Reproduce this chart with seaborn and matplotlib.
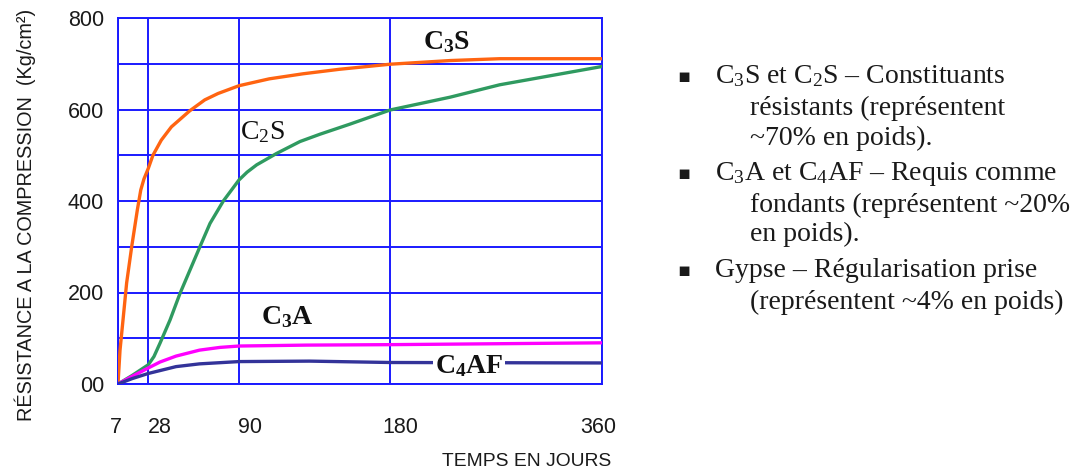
import numpy as np
import pandas as pd
import matplotlib
matplotlib.use("Agg")
import matplotlib.pyplot as plt
import seaborn as sns
from matplotlib.transforms import ScaledTranslation

# ---------------- data ----------------
tick_days = [7, 28, 90, 180, 360]
tick_labels = ["7", "28", "90", "180", "360"]
ytick_values = [0, 200, 400, 600, 800]
ytick_labels = ["00", "200", "400", "600", "800"]

days_c3s = [7, 8.4, 10.7, 13, 16.5, 20.4, 22.8, 25, 28, 31.2, 36.9, 43.8, 56.3, 66.6, 75.7, 90, 108, 128, 150, 180, 231, 273, 360]
res_c3s = [0, 74, 147, 221, 300, 380, 424, 448, 471, 500, 533, 562, 597, 621, 635, 652, 667, 678, 688, 699, 707, 711, 711]

days_c2s = [7, 17, 28, 31.9, 36, 42.9, 49.7, 56.5, 63.3, 70.2, 79.3, 90, 94.8, 100.5, 112.4, 126.3, 138.2, 156, 180, 231, 273, 360]
res_c2s = [0, 19, 42, 60, 89, 140, 198, 249, 300, 351, 400, 446, 463, 479, 504, 530, 546, 568, 599, 627, 654, 694]

days_c3a = [7, 17, 28, 36, 47, 63, 77, 90, 130, 180, 360]
res_c3a = [0, 17, 35, 48, 61, 74, 80, 83, 85, 86, 90]

days_c4af = [7, 17, 28, 47, 63, 90, 132, 180, 360]
res_c4af = [0, 12, 23, 38, 44, 49, 50, 47, 46]

series_names = ["C3S", "C2S", "C3A", "C4AF"]
series_colors = ["#ff6411", "#2f9a60", "#ff00ff", "#333399"]

bullet_lines = [
    (True, r"$\mathrm{C_3S}$ et $\mathrm{C_2S}$ – Constituants"),
    (False, "résistants (représentent"),
    (False, "~70% en poids)."),
    (True, r"$\mathrm{C_3A}$ et $\mathrm{C_4AF}$ – Requis comme"),
    (False, "fondants (représentent ~20%"),
    (False, "en poids)."),
    (True, "Gypse – Régularisation prise"),
    (False, "(représentent ~4% en poids)"),
]

# ---------------- styling ----------------
sns.set_theme(style="white")
plt.rcParams["font.family"] = ["Liberation Sans", "DejaVu Sans"]
plt.rcParams["mathtext.fontset"] = "custom"
plt.rcParams["mathtext.rm"] = "Liberation Serif"
plt.rcParams["mathtext.it"] = "Liberation Serif:italic"
plt.rcParams["mathtext.bf"] = "Liberation Serif:bold"

frames = []
for name, d, r in [("C3S", days_c3s, res_c3s), ("C2S", days_c2s, res_c2s),
                   ("C3A", days_c3a, res_c3a), ("C4AF", days_c4af, res_c4af)]:
    frames.append(pd.DataFrame({"jours": d, "resistance": r, "serie": name}))
df = pd.concat(frames, ignore_index=True)

# non-linear time axis of the original schematic (grid spacing 1:4:9:16)
scale_pos = [0, 1, 4, 9, 16]
D = np.array(tick_days, float)
P = np.array(scale_pos, float)


def fwd(x):
    x = np.asarray(x, float)
    y = np.interp(x, D, P)
    y = np.where(x < D[0], P[0] + (x - D[0]) * (P[1] - P[0]) / (D[1] - D[0]), y)
    y = np.where(x > D[-1], P[-1] + (x - D[-1]) * (P[-1] - P[-2]) / (D[-1] - D[-2]), y)
    return y


def inv(u):
    u = np.asarray(u, float)
    x = np.interp(u, P, D)
    x = np.where(u < P[0], D[0] + (u - P[0]) * (D[1] - D[0]) / (P[1] - P[0]), x)
    x = np.where(u > P[-1], D[-1] + (u - P[-1]) * (D[-1] - D[-2]) / (P[-1] - P[-2]), x)
    return x


fig = plt.figure(figsize=(10.91, 4.75), dpi=100)
ax = fig.add_axes([118 / 1091, 1 - 384 / 475, (602 - 118) / 1091, (384 - 18) / 475])
ax.set_xscale("function", functions=(fwd, inv))

sns.lineplot(data=df, x="jours", y="resistance", hue="serie", hue_order=series_names,
             palette=series_colors, estimator=None, sort=False, lw=2.4, legend=False,
             ax=ax, zorder=3)
for ln in ax.get_lines():
    ln.set_solid_joinstyle("round")

ax.set_xlim(tick_days[0], tick_days[-1])
ax.set_ylim(0, 800)
ax.set_xticks(tick_days)
ax.set_xticklabels(tick_labels)
grid_vals = list(range(0, 801, 100))
ax.set_yticks(grid_vals)
ax.set_yticklabels([ytick_labels[ytick_values.index(v)] if v in ytick_values else "" for v in grid_vals])
ax.minorticks_off()
ax.grid(True, color="#1a1aff", lw=1.4)
for s in ax.spines.values():
    s.set_color("#1a1aff")
    s.set_linewidth(1.4)
ax.tick_params(axis="both", length=0, labelsize=15.5, colors="#1a1a1a")
ax.tick_params(axis="x", pad=24)
ax.tick_params(axis="y", pad=10)
ax.set_xlabel("")
ax.set_ylabel("")

xoffs = [-2, 12, 11, 10, -4]
for lab, dx in zip(ax.get_xticklabels(), xoffs):
    lab.set_transform(lab.get_transform() + ScaledTranslation(dx / 100, 0, fig.dpi_scale_trans))

# curve labels
lab_kw = dict(fontsize=20, ha="center", va="center", color="#111111", zorder=5)
ax.text(228, 748, r"$\mathbf{C_3S}$", **lab_kw)
ax.text(104, 551, r"$\mathrm{C_2S}$", **lab_kw)
ax.text(119, 146, r"$\mathbf{C_3A}$", **lab_kw)
ax.text(247, 39, r"$\mathbf{C_4AF}$", bbox=dict(facecolor="white", edgecolor="none", pad=1.5), **lab_kw)

# axis titles
fig.text(25 / 1091, 1 - 215 / 475, "RÉSISTANCE A LA COMPRESSION  (Kg/cm²)", rotation=90,
         ha="center", va="center", fontsize=14.3, color="#1a1a1a")
fig.text(527 / 1091, 1 - 462 / 475, "TEMPS EN JOURS", ha="center", va="center", fontsize=13.9, color="#1a1a1a")

# right-hand bullet text
baselines = [83, 115, 145, 180, 212, 241, 277, 309]
for (is_bullet, txt), yy in zip(bullet_lines, baselines):
    if is_bullet:
        fig.text(684 / 1091, 1 - (yy - 7) / 475, "▪", ha="center", va="center", fontsize=14,
                 color="#1a1a1a", family=["DejaVu Sans"])
        fig.text(715 / 1091, 1 - yy / 475, txt, ha="left", va="baseline", fontsize=20,
                 color="#1a1a1a", family=["Liberation Serif", "DejaVu Serif"])
    else:
        fig.text(750 / 1091, 1 - yy / 475, txt, ha="left", va="baseline", fontsize=20,
                 color="#1a1a1a", family=["Liberation Serif", "DejaVu Serif"])

fig.savefig("out.png", dpi=100, facecolor="white")
